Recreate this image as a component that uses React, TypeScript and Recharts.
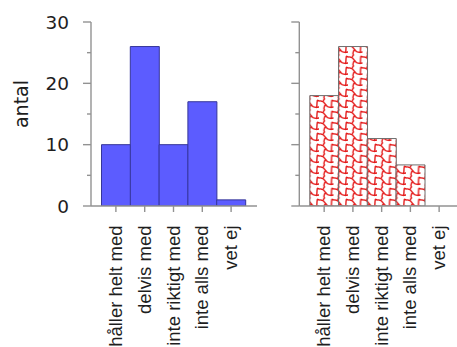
import React from 'react';
import { BarChart, Bar, XAxis, YAxis, Label } from 'recharts';

// Response categories (Swedish survey scale)
const categories = ['håller helt med', 'delvis med', 'inte riktigt med', 'inte alls med', 'vet ej'];
// Counts per category, first group (solid blue)
const leftCounts = [10, 26, 10, 17, 1];
// Counts per category, second group (red patterned)
const rightCounts = [18, 26, 11, 6.7, 0];
// Y-axis ticks: major every 10 (labelled), minor every 5
const yTicks = [0, 5, 10, 15, 20, 25, 30];
const yDomain: [number, number] = [0, 30];

const leftData = categories.map((category, i) => ({ category, value: leftCounts[i] }));
const rightData = categories.map((category, i) => ({ category, value: rightCounts[i] }));

const AXIS = '#929292';
const TEXT = '#1e1e1e';
const CHART_H = 347;
const MARGIN_TOP = 22;
const X_AXIS_H = 141;
const X_PAD = { left: 10.5, right: 11.5 };

const makeYTick = (showLabel: boolean) => (props: any) => {
  const { x, y, payload } = props;
  const major = payload.value % 10 === 0;
  return (
    <g>
      <line x1={x - (major ? 8 : 4)} x2={x} y1={y} y2={y} stroke={AXIS} strokeWidth={1.4} />
      {showLabel && major && (
        <text
          x={x - 22}
          y={y}
          dy="0.36em"
          textAnchor="end"
          fontFamily="DejaVu Sans"
          fontSize={18.5}
          fill={TEXT}
        >
          {payload.value}
        </text>
      )}
    </g>
  );
};

const XTick = (props: any) => {
  const { x, y, payload } = props;
  return (
    <text
      transform={`translate(${x + 6},${y + 11.5}) rotate(-90)`}
      textAnchor="end"
      fontFamily="Liberation Sans"
      fontSize={18.5}
      fill={TEXT}
    >
      {payload.value}
    </text>
  );
};

const YTitle = (props: any) => {
  const vb = props.viewBox || { x: 0, y: MARGIN_TOP, width: 91, height: 184 };
  return (
    <text
      transform={`translate(${vb.x + 28},${vb.y + vb.height / 2 - 10}) rotate(-90)`}
      textAnchor="middle"
      fontFamily="DejaVu Sans"
      fontSize={19}
      fill={TEXT}
    >
      antal
    </text>
  );
};

function Panel({
  data,
  width,
  yAxisWidth,
  showLabels,
  showRightBorder,
  fill,
  stroke,
}: {
  data: { category: string; value: number }[];
  width: number;
  yAxisWidth: number;
  showLabels: boolean;
  showRightBorder: boolean;
  fill: string;
  stroke: string;
}) {
  return (
    <BarChart
      width={width}
      height={CHART_H}
      data={data}
      margin={{ top: MARGIN_TOP, right: showRightBorder ? 13 : 0, bottom: 0, left: 0 }}
      barCategoryGap={0}
      barGap={0}
    >
      <XAxis
        xAxisId="bottom"
        dataKey="category"
        interval={0}
        padding={X_PAD}
        tickSize={6}
        tickLine={{ stroke: AXIS, strokeWidth: 1.4 }}
        axisLine={{ stroke: AXIS, strokeWidth: 1.4 }}
        tick={<XTick />}
        height={X_AXIS_H}
      />
      <XAxis
        xAxisId="top"
        orientation="top"
        dataKey="category"
        height={0}
        tick={false}
        tickLine={false}
        axisLine={{ stroke: AXIS, strokeWidth: 1.8 }}
      />
      <YAxis
        yAxisId="left"
        domain={yDomain}
        ticks={yTicks}
        interval={0}
        width={yAxisWidth}
        tickSize={0}
        tickMargin={0}
        tickLine={false}
        tick={makeYTick(showLabels)}
        axisLine={{ stroke: AXIS, strokeWidth: 1.4 }}
        allowDataOverflow
      >
        {showLabels && <Label content={<YTitle />} />}
      </YAxis>
      {showRightBorder && (
        <YAxis
          yAxisId="right"
          orientation="right"
          domain={yDomain}
          width={0}
          tick={false}
          tickLine={false}
          axisLine={{ stroke: AXIS, strokeWidth: 1.4 }}
        />
      )}
      <Bar
        xAxisId="bottom"
        yAxisId="left"
        dataKey="value"
        fill={fill}
        stroke={stroke}
        strokeWidth={1}
        isAnimationActive={false}
      />
    </BarChart>
  );
}

export default function App() {
  return (
    <div
      style={{
        position: 'absolute',
        left: 0,
        top: 0,
        width: 457,
        height: 347,
        overflow: 'hidden',
        background: '#ffffff',
      }}
    >
      <svg width={0} height={0} style={{ position: 'absolute' }}>
        <defs>
          {/* curly red scale hatch for the second group */}
          <pattern id="redScales" patternUnits="userSpaceOnUse" width={14.5} height={11} x={310} y={0}>
            <rect width={14.5} height={11} fill="#ffffff" />
            <g fill="none" stroke="#e41a1a" strokeWidth={1.4} strokeLinecap="round">
              <path d="M0,2 C3,1.5 5,3 6.5,5.5 C8,8 10.5,9 14.5,8" />
              <path d="M6.5,5.5 C5,7.5 4.5,9.5 5.5,11" />
              <path d="M5.5,0 C4.5,1 4.2,1.6 4.5,1.9" />
              <path d="M12,8.6 C13,6 12,3.5 13,1.5" />
              <path d="M13,1.5 C13.6,1.2 14,1.5 14.5,2" />
            </g>
          </pattern>
        </defs>
      </svg>
      <div style={{ position: 'absolute', left: 0, top: 0 }}>
        <Panel
          data={leftData}
          width={270}
          yAxisWidth={91}
          showLabels
          showRightBorder
          fill="#5c5cff"
          stroke="#36369a"
        />
      </div>
      <div style={{ position: 'absolute', left: 270, top: 0 }}>
        <Panel
          data={rightData}
          width={195}
          yAxisWidth={29.3}
          showLabels={false}
          showRightBorder={false}
          fill="url(#redScales)"
          stroke="#6e6e6e"
        />
      </div>
    </div>
  );
}
